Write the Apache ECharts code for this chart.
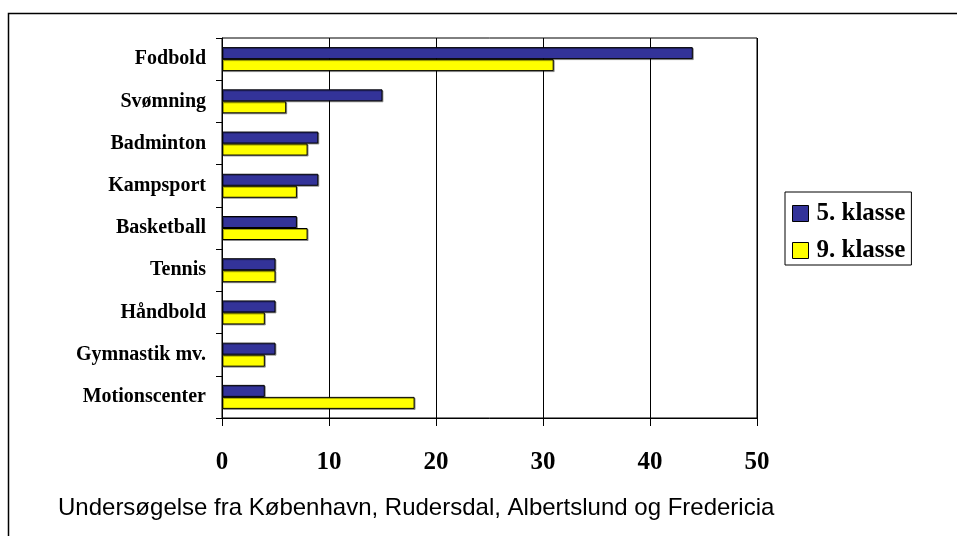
<!DOCTYPE html>
<html>
<head>
<meta charset="utf-8">
<script src="https://cdn.jsdelivr.net/npm/echarts@6/dist/echarts.min.js"></script>
<style>
  html, body { margin: 0; padding: 0; background: #fff; }
  #chart { width: 957px; height: 536px; }
</style>
</head>
<body>
<div id="chart"></div>
<script>
// Sports by school grade (percent of pupils)
const categories = ['Fodbold', 'Svømning', 'Badminton', 'Kampsport', 'Basketball', 'Tennis', 'Håndbold', 'Gymnastik mv.', 'Motionscenter'];
const seriesNames = ['5. klasse', '9. klasse'];
const grade5 = [44, 15, 9, 9, 7, 5, 5, 5, 4];
const grade9 = [31, 6, 8, 7, 8, 5, 4, 4, 18];
const xTicks = [0, 10, 20, 30, 40, 50];
const footnote = 'Undersøgelse fra København, Rudersdal, Albertslund og Fredericia';

const serif = '"Liberation Serif", "Times New Roman", serif';
const sans = '"Liberation Sans", Arial, sans-serif';
const colors = ['#333399', '#ffff00'];

const chart = echarts.init(document.getElementById('chart'), null, { renderer: 'canvas' });

const barStyle = (c) => ({
  color: c,
  borderColor: '#000',
  borderWidth: 1,
  shadowColor: 'rgba(0,0,0,0.35)',
  shadowOffsetX: 1,
  shadowOffsetY: 1
});

chart.setOption({
  animation: false,
  backgroundColor: '#fff',
  grid: {
    left: 222, right: 200, top: 38, bottom: 118,
    show: true, borderColor: '#000', borderWidth: 1
  },
  legend: {
    orient: 'vertical',
    left: 785, top: 192,
    padding: [9, 6, 2, 7],
    itemGap: 12,
    itemWidth: 16, itemHeight: 16,
    icon: 'rect',
    borderColor: '#000', borderWidth: 1,
    backgroundColor: '#fff',
    textStyle: { fontFamily: serif, fontWeight: 'bold', fontSize: 25, color: '#000', padding: [0, 0, 0, 3] },
    data: seriesNames.map((n, i) => ({ name: n, itemStyle: { color: colors[i], borderColor: '#000', borderWidth: 1 } }))
  },
  xAxis: {
    type: 'value',
    min: xTicks[0], max: xTicks[xTicks.length - 1], interval: xTicks[1] - xTicks[0],
    axisLine: { show: true, lineStyle: { color: '#000', width: 1 } },
    axisTick: { show: true, length: 8, lineStyle: { color: '#000' } },
    splitLine: { show: true, lineStyle: { color: '#000', width: 1 } },
    axisLabel: { fontFamily: serif, fontWeight: 'bold', fontSize: 25, color: '#000', margin: 32 }
  },
  yAxis: {
    type: 'category',
    inverse: true,
    data: categories,
    axisLine: { show: true, lineStyle: { color: '#000', width: 1 } },
    axisTick: { show: true, length: 6, alignWithLabel: false, lineStyle: { color: '#000' } },
    axisLabel: { fontFamily: serif, fontWeight: 'bold', fontSize: 20, color: '#000', margin: 16 }
  },
  series: [
    { name: seriesNames[0], type: 'bar', data: grade5, barWidth: 12, barGap: '0%', itemStyle: barStyle(colors[0]) },
    { name: seriesNames[1], type: 'bar', data: grade9, barWidth: 12, barGap: '0%', itemStyle: barStyle(colors[1]) }
  ],
  graphic: [
    {
      type: 'rect', silent: true, z: 100,
      shape: { x: 8.5, y: 13.5, width: 970, height: 560 },
      style: { fill: 'none', stroke: '#000', lineWidth: 1.5 }
    },
    {
      type: 'text', left: 58, top: 496,
      style: { text: footnote, font: '24px ' + sans, fill: '#000' }
    }
  ]
});
</script>
</body>
</html>
